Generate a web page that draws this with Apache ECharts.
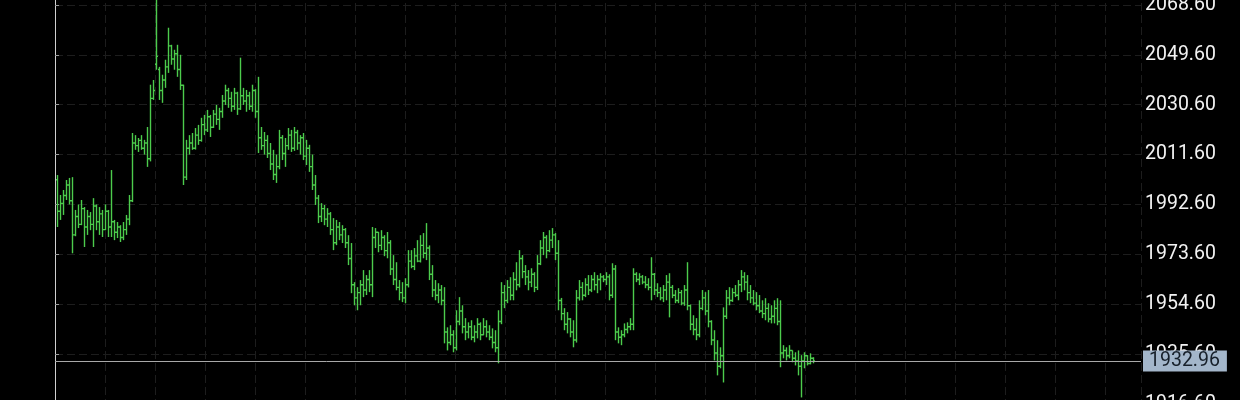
<!DOCTYPE html>
<html><head><meta charset="utf-8">
<script src="https://cdn.jsdelivr.net/npm/echarts@6/dist/echarts.min.js"></script>
<style>html,body{margin:0;padding:0;background:#000;overflow:hidden;width:1240px;height:400px;}#c{position:absolute;left:0;top:-45px;width:1240px;height:449px;}</style>
</head><body><div id="c"></div>
<script>
const opens = [
2002,1990,1993,1996,2000,1994,1981,1988,1985,1991,
1984,1988,1985,1992,1986,1989,1983,1990,1984,1986,
1982,1984,1980,1983,1987,1994,2016,2015,2017,2014,
2016,2010,2033,2046,2044,2036,2040,2045,2053,2048,
2050,2044,2038,2003,2014,2016,2014,2019,2017,2023,
2021,2026,2022,2027,2025,2028,2032,2036,2033,2030,
2035,2029,2034,2032,2034,2030,2036,2028,2018,2015,
2017,2012,2008,2004,2007,2018,2012,2015,2019,2014,
2020,2016,2018,2011,2014,2007,2000,1995,1988,1991,
1987,1989,1983,1978,1984,1981,1983,1978,1972,1962,
1957,1959,1962,1960,1964,1962,1980,1982,1977,1980,
1975,1978,1968,1964,1961,1959,1957,1962,1971,1969,
1973,1971,1977,1974,1976,1966,1960,1958,1960,1956,
1944,1940,1943,1938,1948,1952,1946,1944,1946,1942,
1944,1947,1943,1946,1944,1942,1940,1938,1948,1959,
1956,1961,1958,1964,1962,1972,1967,1965,1963,1966,
1961,1970,1976,1980,1975,1979,1981,1974,1956,1951,
1947,1949,1944,1941,1957,1961,1958,1962,1960,1964,
1962,1964,1965,1964,1965,1958,1968,1944,1942,1943,
1945,1946,1947,1966,1964,1965,1963,1962,1961,1966,
1960,1959,1957,1960,1963,1961,1958,1956,1959,1955,
1960,1954,1947,1945,1943,1953,1957,1952,1948,1941,
1936,1931,1935,1950,1957,1956,1959,1958,1962,1965,
1963,1959,1957,1955,1954,1952,1951,1953,1949,1950,
1953,1948,1936,1937,1935,1937,1934,1933,1931,1933,
1935,1932,1934];
const highs = [
2003.8,1996.2,1998.1,2001.9,2002.7,2003,1990.5,1992.6,1994.3,1991.6,
1990.5,1989.7,1995,1992.6,1991.6,1990.5,1992.6,1990.5,2005.7,1986.7,
1985.9,1984.7,1985.9,1988.6,1996.2,2019.8,2019,2017.9,2019,2017.2,
2022.1,2038.2,2040,2070.5,2045,2042,2047.7,2059.9,2053.4,2051.5,
2053.4,2049.6,2038.2,2017.2,2019,2019.8,2021.7,2022.9,2025.6,2026.7,
2028.6,2026.7,2028.6,2030.5,2029.4,2034.3,2038.2,2037,2035.5,2037,
2035.5,2048.5,2037,2036.2,2035.5,2038.2,2036.5,2041.2,2022.1,2020.2,
2019,2016,2013.4,2011.6,2021,2019,2017.9,2021.7,2021,2022.1,
2021,2019,2019.8,2017.2,2015.3,2011.6,2003.8,1996.2,1993.1,1992.4,
1991.2,1989.7,1987.4,1986.7,1985.9,1984.7,1983.6,1980.9,1977.9,1963,
1961.1,1963.8,1967.6,1965.7,1967.6,1984,1983.6,1982.1,1982.8,1980.9,
1982.1,1979,1973.3,1970.6,1963.8,1963,1964.5,1975.2,1975.2,1976,
1979,1980.9,1981.7,1985.5,1977,1969.5,1963.8,1962.6,1961.9,1961.1,
1945.8,1946.6,1944.7,1952.3,1957.3,1954.2,1949.3,1947.7,1948.5,1946.6,
1949.3,1947.7,1949.3,1948.5,1946.6,1945.4,1944.7,1952.3,1963,1961.9,
1963.8,1964.9,1966.8,1970.6,1975.2,1973.3,1969.5,1967.6,1968.3,1966.8,
1973.3,1979,1982.1,1980.9,1982.8,1983.6,1981.7,1979,1957,1953.1,
1951.6,1949.3,1948.5,1960,1963.8,1963,1964.5,1965.7,1965.7,1966.8,
1965.7,1966.4,1965.7,1966.8,1966,1970.2,1969.5,1945.8,1944.7,1947.3,
1947.7,1949.3,1968.3,1966.8,1966.4,1965.7,1965.3,1964.5,1972.5,1966.5,
1962.6,1961.1,1961.9,1965.7,1966.4,1961.9,1960,1960.7,1960,1961.9,
1970.6,1954.5,1950.4,1949.3,1956.1,1960,1959.2,1960,1948.5,1944.7,
1940.9,1938.2,1953.4,1960,1961.1,1960.7,1961.9,1963.8,1967.6,1966.8,
1965.7,1961.9,1960,1959.2,1958.1,1956.1,1956.9,1955,1954.2,1956.1,
1956.9,1956.1,1939,1938.2,1939,1937,1936.3,1937,1935.2,1936.3,
1935.2,1935.9,1934.4];
const lows = [
1984,1986.7,1988.6,1994.3,1992.6,1974,1980.5,1983.6,1984.7,1976.4,
1981,1982.8,1976.4,1982.8,1981,1980.2,1982.8,1980.2,1980.2,1979,
1979.8,1978.3,1979,1981,1984.7,1993.5,2013.4,2012.6,2013.4,2011.6,
2006.9,2009,2032.4,2043.9,2032.4,2031.3,2037,2042.7,2045.8,2043.9,
2041.2,2036.2,2000,2001.9,2011.6,2013.4,2013.5,2015.3,2016.5,2019,
2020.2,2018.3,2021.7,2022.9,2021,2025.6,2030.5,2029.4,2027.9,2028.6,
2026.7,2028.6,2030.5,2027.9,2028.6,2027.9,2025.6,2012.2,2013.4,2011.6,
2010.3,2005.7,2001.9,2000.8,2006,2009.5,2006.9,2013.4,2012.6,2013,
2013.4,2011.6,2009.5,2007.6,2005,1998.1,1992.4,1985.5,1985.9,1984.7,
1984,1981,1975.2,1977.1,1979,1977.9,1976,1969.5,1958.8,1954.2,
1952.3,1954.2,1957.3,1958.1,1959.2,1957.3,1976,1974.4,1975.2,1972.9,
1972.1,1965.7,1961.9,1959.9,1956.1,1955.4,1955,1961,1968.3,1967.6,
1970.6,1970.5,1972.1,1971.4,1963.8,1957.3,1956.1,1955,1954.2,1939.7,
1937,1939,1936.3,1937,1946.6,1943.5,1940.9,1941.6,1940.9,1940.1,
1941.6,1940.9,1942.8,1942,1940.9,1937.8,1936.3,1932.1,1947,1953.1,
1955,1956.1,1956.1,1959.9,1961,1964.5,1961.9,1959.9,1961.1,1959.2,
1960,1969.5,1973.3,1972.1,1974.4,1976,1971.4,1952.3,1948.5,1944.7,
1943.5,1942,1938.2,1940,1956,1956.1,1957.3,1958.1,1959.2,1959.9,
1958.8,1959.9,1963,1961.9,1956.1,1957,1940.9,1939.7,1939,1942,
1943.5,1944.7,1944.7,1963,1961.9,1962.2,1960.7,1959.9,1956.1,1958.1,
1957.3,1956.1,1955.4,1956.1,1949.6,1956.9,1955,1955,1954.2,1954,
1952.3,1944.7,1942.8,1940.9,1942,1952.3,1950.4,1945.8,1939,1933.2,
1927.5,1930.2,1924.8,1949,1954.2,1955.5,1957.3,1956.1,1959.2,1959.9,
1956.1,1955,1954.2,1952.3,1951.2,1949.3,1948.5,1947.7,1947.3,1947.3,
1946.6,1930.6,1934,1933.2,1934,1932.5,1931.3,1927.5,1919.1,1930.2,
1931.3,1931.7,1932.1];
const closes = [
1990,1993,1996,2000,1994,1981,1988,1985,1991,1984,
1988,1985,1992,1986,1989,1983,1990,1984,1986,1982,
1984,1980,1983,1987,1994,2016,2015,2017,2014,2016,
2010,2033,2036,2049,2036,2040,2045,2053,2048,2050,
2044,2038,2003,2014,2016,2014,2019,2017,2023,2021,
2026,2022,2027,2025,2028,2032,2036,2033,2030,2035,
2029,2034,2032,2034,2030,2036,2028,2018,2015,2017,
2012,2008,2004,2007,2018,2012,2015,2019,2014,2020,
2016,2018,2011,2014,2007,2000,1995,1988,1991,1987,
1989,1983,1978,1984,1981,1983,1978,1972,1962,1957,
1959,1962,1960,1964,1962,1980,1982,1977,1980,1975,
1978,1968,1964,1961,1959,1957,1962,1971,1969,1973,
1971,1977,1974,1976,1966,1960,1958,1960,1956,1944,
1940,1943,1938,1948,1952,1946,1944,1946,1942,1944,
1947,1943,1946,1944,1942,1940,1938,1948,1959,1956,
1961,1958,1964,1962,1972,1967,1965,1963,1966,1961,
1970,1976,1980,1975,1979,1981,1974,1956,1951,1947,
1949,1944,1941,1957,1961,1958,1962,1960,1964,1962,
1964,1965,1964,1965,1958,1968,1944,1942,1943,1945,
1946,1947,1966,1964,1965,1963,1962,1961,1966,1960,
1959,1957,1960,1963,1961,1958,1956,1959,1955,1960,
1954,1947,1945,1943,1953,1957,1952,1948,1941,1936,
1931,1935,1950,1957,1956,1959,1958,1962,1965,1963,
1959,1957,1955,1954,1952,1951,1953,1949,1950,1953,
1948,1936,1937,1935,1937,1934,1933,1931,1933,1935,
1932,1934,1932.96];
const lastPrice = 1932.96;
const lastPriceLabel = '1932.96';
const yMin = 1916.6, yMax = 2087.6, yStep = 19;
const slotCount = 362;

const slots = Array.from({length: slotCount}, (_, i) => String(i));
const ohlc = opens.map((o, i) => [i, o, closes[i], lows[i], highs[i]]);
const barColor = '#4ccc4c';
const gridColor = '#1d1d1d';

const chart = echarts.init(document.getElementById('c'), null, {renderer: 'canvas'});
chart.setOption({
  backgroundColor: '#000',
  animation: false,
  grid: {left: 55, right: 99, top: 0, bottom: 0, containLabel: false, outerBoundsMode: 'none'},
  xAxis: [
    {type: 'category', data: slots, boundaryGap: true, show: false},
    {type: 'value', min: 0, max: 1086, interval: 50, position: 'bottom',
     axisLine: {show: false}, axisTick: {show: false}, axisLabel: {show: false},
     splitLine: {show: true, lineStyle: {color: gridColor, width: 1, type: [8, 4]}}}
  ],
  yAxis: [
    {type: 'value', position: 'right', min: yMin, max: yMax, interval: yStep,
     axisLine: {show: true, lineStyle: {color: '#9a9a9a', width: 1}},
     axisTick: {show: true, length: 4, inside: false, lineStyle: {color: '#9a9a9a'}},
     axisLabel: {color: '#f2f2f2', fontFamily: 'Roboto', fontSize: 19.5, margin: 4,
                 showMinLabel: true, showMaxLabel: true,
                 formatter: v => v.toFixed(2)},
     splitLine: {show: true, lineStyle: {color: gridColor, width: 1, type: [8, 4]}}},
    {type: 'value', position: 'left', min: yMin, max: yMax, interval: yStep,
     axisLine: {show: true, lineStyle: {color: '#d0d0d0', width: 1}},
     axisTick: {show: false}, axisLabel: {show: false}, splitLine: {show: false}}
  ],
  series: [{
    type: 'custom',
    xAxisIndex: 0, yAxisIndex: 0,
    data: ohlc,
    encode: {x: 0, y: [1, 2, 3, 4]},
    clip: true,
    renderItem: function (params, api) {
      const i = api.value(0);
      const o = api.coord([i, api.value(1)]);
      const c = api.coord([i, api.value(2)]);
      const l = api.coord([i, api.value(3)]);
      const h = api.coord([i, api.value(4)]);
      const px = Math.round(h[0]) + 0.5;
      const st = {stroke: barColor, lineWidth: 1.4};
      return {type: 'group', children: [
        {type: 'line', shape: {x1: px, y1: h[1], x2: px, y2: l[1]}, style: st},
        {type: 'line', shape: {x1: px - 1.5, y1: o[1], x2: px, y2: o[1]}, style: st},
        {type: 'line', shape: {x1: px, y1: c[1], x2: px + 1.5, y2: c[1]}, style: st}
      ]};
    },
    markLine: {
      silent: true, symbol: 'none', animation: false,
      lineStyle: {color: '#a8a8a8', width: 1, type: 'solid'},
      label: {show: true, position: 'end', distance: 2, formatter: lastPriceLabel,
              color: '#17202a', backgroundColor: '#a3b6ca', fontFamily: 'Roboto',
              fontSize: 19.5, lineHeight: 19, padding: [1, 7, 1, 6]},
      data: [{yAxis: lastPrice}]
    }
  }]
});
</script></body></html>
